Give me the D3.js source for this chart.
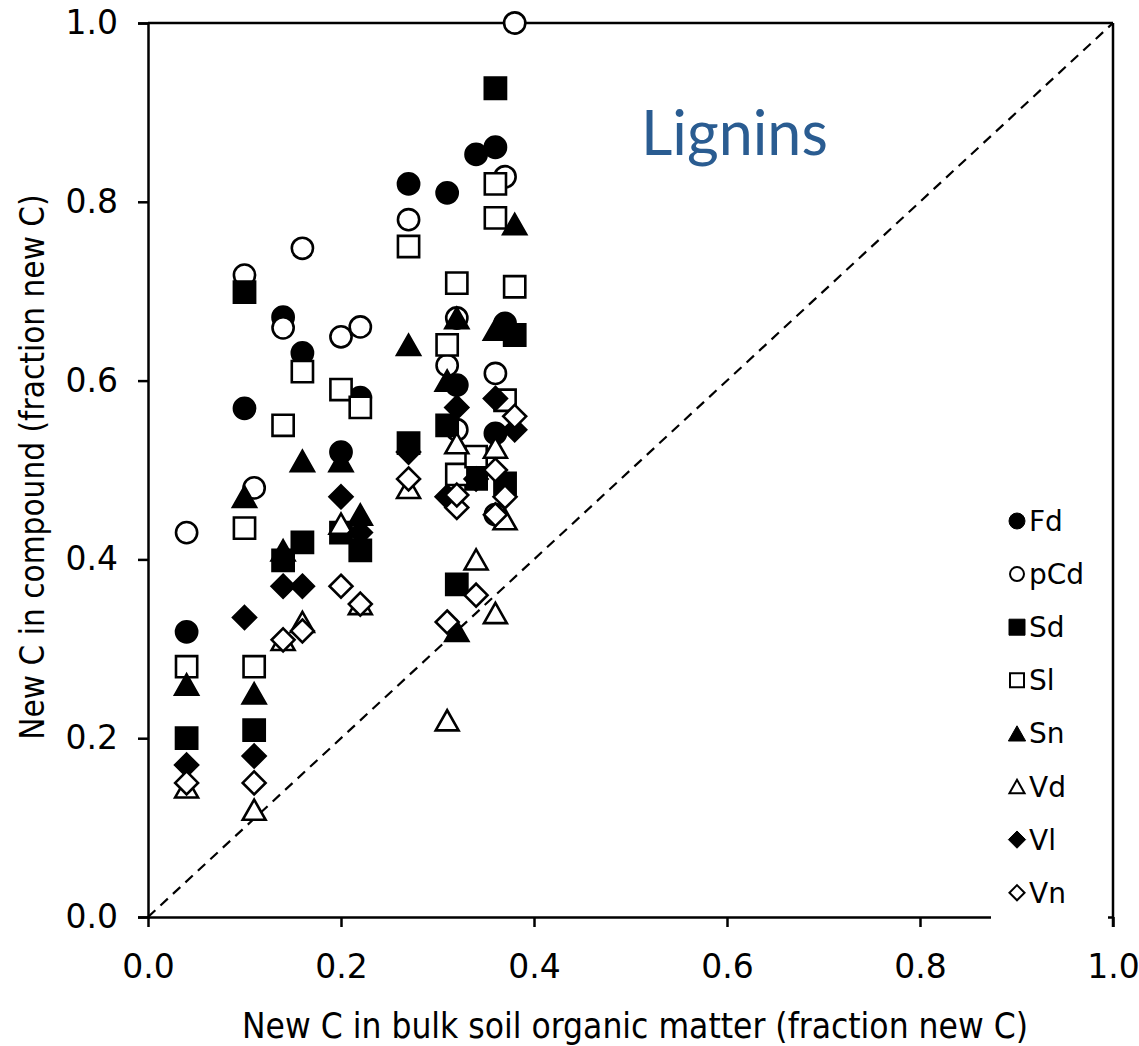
<!DOCTYPE html>
<html><head><meta charset="utf-8">
<script src="https://cdn.jsdelivr.net/npm/d3@7"></script>
<style>body{margin:0;background:#fff}</style>
</head><body>
<svg id="chart" width="1139" height="1046"></svg>
<script>
// ---- data (fraction new C) ----
const seriesNames = ["Fd","pCd","Sd","Sl","Sn","Vd","Vl","Vn"];
const Fd = [[0.04,0.319],[0.10,0.569],[0.14,0.671],[0.16,0.631],[0.20,0.520],[0.22,0.581],[0.27,0.820],[0.31,0.810],[0.32,0.595],[0.34,0.853],[0.36,0.861],[0.36,0.541],[0.37,0.664]];
const pCd = [[0.04,0.430],[0.10,0.718],[0.11,0.480],[0.14,0.659],[0.16,0.748],[0.20,0.649],[0.22,0.660],[0.27,0.780],[0.31,0.617],[0.32,0.670],[0.32,0.545],[0.36,0.608],[0.36,0.450],[0.37,0.828],[0.38,1.000]];
const Sd = [[0.04,0.200],[0.10,0.699],[0.11,0.209],[0.14,0.399],[0.16,0.419],[0.20,0.430],[0.22,0.410],[0.27,0.530],[0.31,0.550],[0.32,0.372],[0.34,0.490],[0.36,0.927],[0.37,0.485],[0.38,0.651]];
const Sl = [[0.04,0.280],[0.10,0.435],[0.11,0.280],[0.14,0.550],[0.16,0.610],[0.20,0.590],[0.22,0.570],[0.27,0.750],[0.31,0.640],[0.32,0.709],[0.32,0.495],[0.34,0.515],[0.36,0.820],[0.36,0.782],[0.37,0.578],[0.38,0.705]];
const Sn = [[0.04,0.260],[0.10,0.470],[0.11,0.250],[0.14,0.410],[0.16,0.510],[0.20,0.510],[0.22,0.450],[0.27,0.640],[0.31,0.600],[0.32,0.670],[0.32,0.320],[0.36,0.657],[0.38,0.775]];
const Vd = [[0.04,0.145],[0.11,0.120],[0.14,0.310],[0.16,0.330],[0.20,0.440],[0.22,0.350],[0.27,0.480],[0.31,0.220],[0.32,0.530],[0.34,0.400],[0.36,0.340],[0.36,0.525],[0.37,0.445]];
const Vl = [[0.04,0.170],[0.10,0.335],[0.11,0.180],[0.14,0.370],[0.16,0.370],[0.20,0.470],[0.22,0.430],[0.27,0.520],[0.31,0.470],[0.32,0.570],[0.34,0.490],[0.36,0.580],[0.38,0.545]];
const Vn = [[0.04,0.150],[0.11,0.150],[0.14,0.310],[0.16,0.320],[0.20,0.370],[0.22,0.350],[0.27,0.490],[0.31,0.330],[0.32,0.458],[0.32,0.472],[0.34,0.360],[0.36,0.500],[0.36,0.450],[0.37,0.470],[0.38,0.560]];
const xTicks = [0,0.2,0.4,0.6,0.8,1.0];
const yTicks = [0,0.2,0.4,0.6,0.8,1.0];
const seriesData = [Fd,pCd,Sd,Sl,Sn,Vd,Vl,Vn];
const seriesShape = ["circle","circle","square","square","triangle","triangle","diamond","diamond"];
const seriesFilled = [true,false,true,false,true,false,true,false];

// ---- layout ----
const L = 148, R = 1113, T = 23, B = 917;
const svg = d3.select("#chart");
const x = d3.scaleLinear().domain([0,1]).range([L,R]);
const y = d3.scaleLinear().domain([0,1]).range([B,T]);
const fmt = d3.format(".1f");
const tickFont = "DejaVu Sans, Verdana, sans-serif";
const titleFont = "DejaVu Sans Condensed, DejaVu Sans, sans-serif";

function shapePath(type, s){
  if(type==="circle"){const p=d3.path();p.arc(0,0,s,0,2*Math.PI);p.closePath();return p.toString();}
  if(type==="square") return `M${-s},${-s}H${s}V${s}H${-s}Z`;
  if(type==="triangle"){const h=s*0.95;return `M0,${-h}L${s*1.08},${h}L${-s*1.08},${h}Z`;}
  if(type==="diamond"){const h=s*1.08;return `M0,${-h}L${h},0L0,${h}L${-h},0Z`;}
}

// frame lines (top and right)
svg.append("line").attr("x1",L).attr("x2",R).attr("y1",T).attr("y2",T).attr("stroke","#000").attr("stroke-width",2.5);
svg.append("line").attr("x1",R).attr("x2",R).attr("y1",T).attr("y2",B+10).attr("stroke","#000").attr("stroke-width",2.5);

// diagonal 1:1 line
svg.append("line").attr("x1",x(0)).attr("y1",y(0)).attr("x2",x(1)).attr("y2",y(1))
  .attr("stroke","#000").attr("stroke-width",2.2).attr("stroke-dasharray","10,7");

// axes
const xAxis = d3.axisBottom(x).tickValues(xTicks).tickFormat(fmt).tickSize(10).tickPadding(28);
const gx = svg.append("g").attr("transform",`translate(0,${B})`).call(xAxis);
const yAxis = d3.axisLeft(y).tickValues(yTicks).tickFormat(fmt).tickSize(10).tickPadding(20);
const gy = svg.append("g").attr("transform",`translate(${L},0)`).call(yAxis);
[gx,gy].forEach(g=>{
  g.select(".domain").attr("stroke","#000").attr("stroke-width",2.5);
  g.selectAll(".tick line").attr("stroke","#000").attr("stroke-width",2.5);
  g.selectAll(".tick text").attr("fill","#000").style("font-family",tickFont).style("font-size","33px");
});
gx.select(".domain").attr("d",`M${L},0.5H${R}`);

// markers
seriesData.forEach((data,i)=>{
  svg.append("g").selectAll("path").data(data).join("path")
    .attr("transform",d=>`translate(${x(d[0])},${y(d[1])})`)
    .attr("d",shapePath(seriesShape[i],10.6))
    .attr("fill",seriesFilled[i]?"#000":"#fff")
    .attr("stroke","#000").attr("stroke-width",2.6);
});

// legend
const legTop = 521, legStep = 53.1;
svg.append("rect").attr("x",991).attr("y",495).attr("width",117).attr("height",435).attr("fill","#fff");
seriesNames.forEach((nm,i)=>{
  const cy = legTop + i*legStep;
  svg.append("path").attr("transform",`translate(1017,${cy})`)
    .attr("d",shapePath(seriesShape[i],seriesFilled[i]?8:7))
    .attr("fill",seriesFilled[i]?"#000":"#fff").attr("stroke","#000").attr("stroke-width",seriesFilled[i]?1:2);
  svg.append("text").attr("x",1029).attr("y",cy).attr("dy","0.36em")
    .style("font-family",tickFont).style("font-size","28px").text(nm);
});

// titles
svg.append("text").attr("x",635).attr("y",1038).attr("text-anchor","middle")
  .style("font-family",titleFont).style("font-size","35px").text("New C in bulk soil organic matter (fraction new C)");
svg.append("text").attr("transform",`translate(44,467) rotate(-90)`).attr("text-anchor","middle")
  .style("font-family",titleFont).style("font-size","33px").text("New C in compound (fraction new C)");
svg.append("text").attr("x",641).attr("y",155).style("font-family","Lato, 'Open Sans', sans-serif")
  .style("font-size","61px").attr("fill","#2A5C91").text("Lignins");
</script>
</body></html>
